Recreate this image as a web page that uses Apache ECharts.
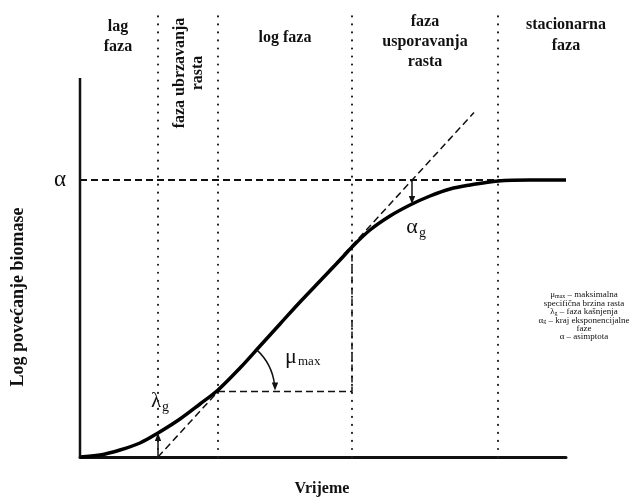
<!DOCTYPE html>
<html><head><meta charset="utf-8">
<script src="https://cdn.jsdelivr.net/npm/echarts@6/dist/echarts.min.js"></script>
<style>html,body{margin:0;padding:0;background:#fff}#chart{width:641px;height:504px}</style>
</head><body><div id="chart"></div>
<script>
// Bacterial growth curve: log increase of biomass over time (arbitrary units)
const time = [0, 20, 40, 60, 78, 100, 120, 138, 160, 180, 200, 220, 240, 260, 272, 290, 310, 330, 350, 370, 390, 418, 450, 486];
const logBiomass = [0, 2, 7, 14, 24, 38, 53, 67, 89, 111, 133, 155, 176, 197, 210, 227, 241, 252, 261, 268, 272, 276, 277, 277];
const asymptote = 277;                   // α
const phaseBounds = [78, 138, 272, 418]; // boundaries between growth phases
const lagTime = 78;                      // λg: tangent meets the time axis
const muMax = 1.09;                      // slope of the tangent (μmax)
const tangentEnd = 394;                  // time where the dashed tangent stops
const alphaG = 332;                      // time where the tangent reaches α
const timeMax = 486, yAxisTop = 379, yMax = 445;

const tangentY = t => muMax * (t - lagTime);
const curveAt = t => {
  for (let i = 1; i < time.length; i++) {
    if (t <= time[i]) {
      const f = (t - time[i - 1]) / (time[i] - time[i - 1]);
      return logBiomass[i - 1] + f * (logBiomass[i] - logBiomass[i - 1]);
    }
  }
  return logBiomass[logBiomass.length - 1];
};

const serif = '"Liberation Serif", "Times New Roman", serif';
const chart = echarts.init(document.getElementById('chart'), null, { renderer: 'canvas' });

const dashed = (w) => ({ color: '#111', width: w, type: [7, 4] });
const lineSeries = (data, style, z) => ({
  type: 'line', data, symbol: 'none', silent: true, animation: false,
  lineStyle: style, z: z || 2
});

const series = [];
// phase boundaries (dotted)
phaseBounds.forEach(b => series.push(lineSeries([[b, 0], [b, yMax]],
  { color: '#222', width: 2.2, type: [0.01, 8], cap: 'round' }, 1)));
// vertical axis line
series.push(lineSeries([[0, 0], [0, yAxisTop]], { color: '#111', width: 2.5 }, 5));
// asymptote α
series.push(lineSeries([[0, asymptote], [timeMax, asymptote]], dashed(2), 2));
// tangent at maximum growth rate
series.push(lineSeries([[lagTime, 0], [tangentEnd, tangentY(tangentEnd)]], dashed(1.5), 2));
// slope triangle
series.push(lineSeries([[phaseBounds[1], tangentY(phaseBounds[1])], [phaseBounds[2], tangentY(phaseBounds[1])],
  [phaseBounds[2], tangentY(phaseBounds[2])]], dashed(1.5), 2));
// growth curve
series.push({
  type: 'line', data: time.map((t, i) => [t, logBiomass[i]]), symbol: 'none', smooth: 0.35,
  silent: true, animation: false, z: 4,
  lineStyle: { color: '#000', width: 3.5 }
});

// arrows and the μmax arc
function arrowShapes(p0, p1) {
  const dx = p1[0] - p0[0], dy = p1[1] - p0[1];
  const L = Math.hypot(dx, dy), ux = dx / L, uy = dy / L, px = -uy, py = ux;
  const hl = 8, hw = 3.2;
  const b = [p1[0] - ux * hl, p1[1] - uy * hl];
  return [
    { type: 'line', shape: { x1: p0[0], y1: p0[1], x2: b[0] + ux * 2, y2: b[1] + uy * 2 }, style: { stroke: '#111', lineWidth: 1.5 } },
    { type: 'polygon', shape: { points: [p1, [b[0] + px * hw, b[1] + py * hw], [b[0] - px * hw, b[1] - py * hw]] }, style: { fill: '#111' } }
  ];
}
series.push({
  type: 'custom', data: [0], silent: true, animation: false, z: 6,
  renderItem: (params, api) => {
    const children = [];
    children.push(...arrowShapes(api.coord([lagTime, 0]), api.coord([lagTime, curveAt(lagTime)])));
    children.push(...arrowShapes(api.coord([alphaG, asymptote]), api.coord([alphaG, curveAt(alphaG)])));
    const c = api.coord([phaseBounds[1], tangentY(phaseBounds[1])]);
    const r = 57, a0 = -Math.atan(muMax);
    children.push({ type: 'arc', shape: { cx: c[0], cy: c[1], r, startAngle: a0, endAngle: -0.12, clockwise: true },
      style: { stroke: '#111', lineWidth: 1.5, fill: null } });
    const tip = [c[0] + r, c[1] - 1];
    children.push({ type: 'polygon', shape: { points: [tip, [tip[0] - 3.2, tip[1] - 8], [tip[0] + 3.2, tip[1] - 8]] }, style: { fill: '#111' } });
    return { type: 'group', children };
  }
});

const txt = (x, y, text, size, extra) => ({
  type: 'text', x, y, silent: true,
  style: Object.assign({ text, fontFamily: serif, fontSize: size, fill: '#111', align: 'center', verticalAlign: 'middle' }, extra || {})
});
const bold = (x, y, text, size, lh, extra) => txt(x, y, text, size, Object.assign({ fontWeight: 'bold', lineHeight: lh || 20 }, extra || {}));

chart.setOption({
  animation: false,
  backgroundColor: '#fff',
  grid: { left: 80, right: 75, top: 12, bottom: 47 },
  xAxis: { type: 'value', min: 0, max: timeMax, axisLine: { show: true, lineStyle: { color: '#111', width: 3 } },
    axisTick: { show: false }, axisLabel: { show: false }, splitLine: { show: false } },
  yAxis: { type: 'value', min: 0, max: yMax, axisLine: { show: false },
    axisTick: { show: false }, axisLabel: { show: false }, splitLine: { show: false } },
  series,
  graphic: [
    bold(118, 37, 'lag\nfaza', 16, 20),
    Object.assign(bold(189, 73, 'faza ubrzavanja\nrasta', 16, 18), { rotation: Math.PI / 2 }),
    bold(285, 38, 'log faza', 16),
    bold(425, 42, 'faza\nusporavanja\nrasta', 16, 20),
    bold(566, 35, 'stacionarna\nfaza', 16, 21),
    bold(322, 489, 'Vrijeme', 16),
    Object.assign(bold(18, 297, 'Log povećanje biomase', 18), { rotation: Math.PI / 2 }),
    txt(60, 180, 'α', 23),
    txt(412, 227, 'α', 22),
    txt(419, 233, 'g', 14, { align: 'left' }),
    txt(156, 401, 'λ', 21),
    txt(162, 407, 'g', 14, { align: 'left' }),
    txt(291, 357, 'μ', 22),
    txt(298, 362, 'max', 13, { align: 'left' }),
    {
      type: 'text', x: 584, y: 316, silent: true,
      style: {
        text: '{a|μ}{s|max}{a| – maksimalna}\n{a|specifična brzina rasta}\n{a|λ}{s|g}{a| – faza kašnjenja}\n{a|α}{s|g}{a| – kraj eksponencijalne}\n{a|faze}\n{a|α – asimptota}',
        align: 'center', verticalAlign: 'middle', fill: '#111',
        rich: {
          a: { fontFamily: serif, fontSize: 9, fill: '#111', lineHeight: 8.4 },
          s: { fontFamily: serif, fontSize: 6, fill: '#111', lineHeight: 8.4, padding: [3, 0, 0, 0] }
        }
      }
    }
  ]
});
</script></body></html>
